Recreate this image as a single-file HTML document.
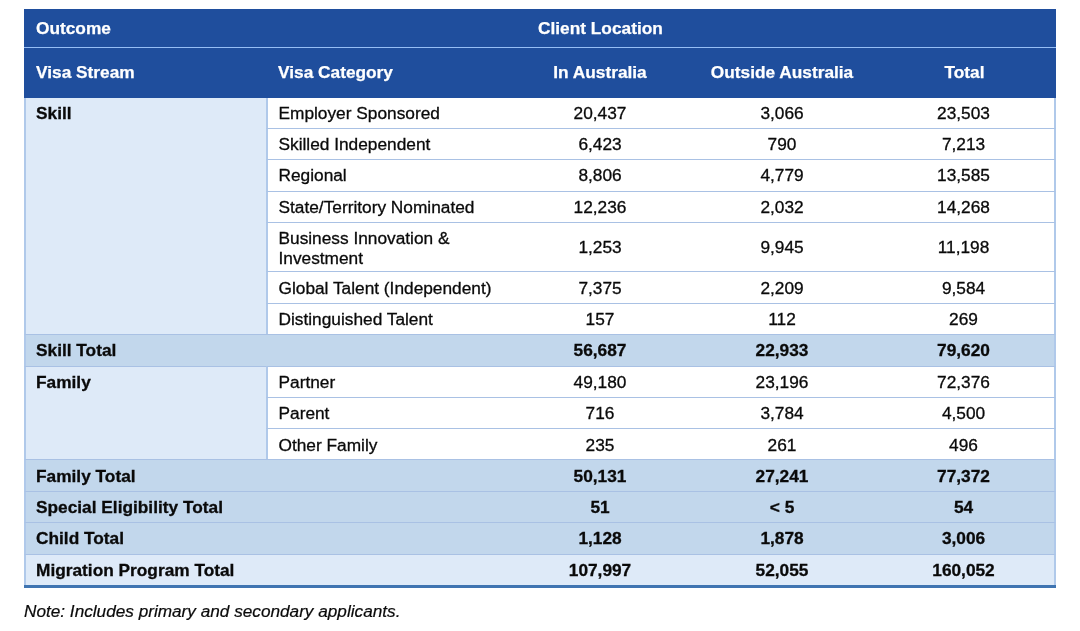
<!DOCTYPE html>
<html lang="en">
<head>
<meta charset="utf-8">
<title>Migration Program Outcome by Visa Stream and Client Location</title>
<style>
  html, body { margin: 0; padding: 0; background: #ffffff; }
  body { width: 1080px; height: 631px; position: relative; overflow: hidden;
         font-family: "Liberation Sans", sans-serif; color: #0a0a0a; }
  table.outcome { position: absolute; left: 24px; top: 9px; width: 1032px; border-collapse: separate; border-spacing: 0;
          table-layout: fixed; font-size: 17.3px; line-height: 20px; border-bottom: 3px solid #3f74b1; }
  col.c1 { width: 242px; } col.c2 { width: 243px; } col.c3 { width: 182px; } col.c4 { width: 182px; } col.c5 { width: 183px; }
  th, td { padding: 0 0 0 12px; vertical-align: top; text-align: left; font-weight: normal;
           box-sizing: border-box; border-top: 1px solid #a9c1e4; overflow: hidden; white-space: nowrap; }
  thead th { background: #1f4e9d; color: #fff; font-weight: bold; border-top: 0; -webkit-text-stroke: 0.25px #fff; }
  thead tr.h1 th { height: 38px; padding-top: 9px; }
  thead tr.h2 th { height: 51px; border-top: 1px solid #96bef5; padding-top: 14px; }
  thead th.loc { padding-left: 29px; }
  th.c, td.c { text-align: center; padding-left: 0; padding-right: 0; }
  tbody td, tbody th { -webkit-text-stroke: 0.3px currentColor; }
  tbody td { background: #fff; }
  tbody tr:first-child > * { border-top: 0; }
  tbody th:first-child { border-left: 2px solid #b0c9ea; padding-left: 10px; }
  tbody td:last-child { border-right: 2px solid #b0c9ea; }
  tbody th.stream { background: #deeaf8; font-weight: bold; }
  tbody td.cat { border-left: 2px solid #b0c9ea; padding-left: 10.5px; }
  tr.tot td, tr.tot th { background: #c2d7ec; font-weight: bold; }
  tr.grand td, tr.grand th { background: #deeaf8; font-weight: bold; }
  .note { position: absolute; left: 24px; top: 601px; font-size: 17.2px; font-style: italic; line-height: 20px; -webkit-text-stroke: 0.2px currentColor; }
</style>
</head>
<body>
<table class="outcome">
  <colgroup><col class="c1"><col class="c2"><col class="c3"><col class="c4"><col class="c5"></colgroup>
  <thead>
    <tr class="h1"><th colspan="2">Outcome</th><th class="loc" colspan="3">Client Location</th></tr>
    <tr class="h2"><th>Visa Stream</th><th>Visa Category</th><th class="c">In Australia</th><th class="c">Outside Australia</th><th class="c">Total</th></tr>
  </thead>
  <tbody>
    <tr style="height:30px"><th class="stream" rowspan="7" style="padding-top:5px">Skill</th><td class="cat" style="padding-top:5px">Employer Sponsored</td><td class="c" style="padding-top:5px">20,437</td><td class="c" style="padding-top:5px">3,066</td><td class="c" style="padding-top:5px">23,503</td></tr>
    <tr style="height:31px"><td class="cat" style="padding-top:5px">Skilled Independent</td><td class="c" style="padding-top:5px">6,423</td><td class="c" style="padding-top:5px">790</td><td class="c" style="padding-top:5px">7,213</td></tr>
    <tr style="height:32px"><td class="cat" style="padding-top:5px">Regional</td><td class="c" style="padding-top:5px">8,806</td><td class="c" style="padding-top:5px">4,779</td><td class="c" style="padding-top:5px">13,585</td></tr>
    <tr style="height:31px"><td class="cat" style="padding-top:5px">State/Territory Nominated</td><td class="c" style="padding-top:5px">12,236</td><td class="c" style="padding-top:5px">2,032</td><td class="c" style="padding-top:5px">14,268</td></tr>
    <tr style="height:49px"><td class="cat" style="padding-top:5px">Business Innovation &amp;<br>Investment</td><td class="c" style="padding-top:14px">1,253</td><td class="c" style="padding-top:14px">9,945</td><td class="c" style="padding-top:14px">11,198</td></tr>
    <tr style="height:32px"><td class="cat" style="padding-top:6px">Global Talent (Independent)</td><td class="c" style="padding-top:6px">7,375</td><td class="c" style="padding-top:6px">2,209</td><td class="c" style="padding-top:6px">9,584</td></tr>
    <tr style="height:31px"><td class="cat" style="padding-top:5px">Distinguished Talent</td><td class="c" style="padding-top:5px">157</td><td class="c" style="padding-top:5px">112</td><td class="c" style="padding-top:5px">269</td></tr>
    <tr class="tot" style="height:32px"><th colspan="2" style="padding-top:5px">Skill Total</th><td class="c" style="padding-top:5px">56,687</td><td class="c" style="padding-top:5px">22,933</td><td class="c" style="padding-top:5px">79,620</td></tr>
    <tr style="height:31px"><th class="stream" rowspan="3" style="padding-top:5px">Family</th><td class="cat" style="padding-top:5px">Partner</td><td class="c" style="padding-top:5px">49,180</td><td class="c" style="padding-top:5px">23,196</td><td class="c" style="padding-top:5px">72,376</td></tr>
    <tr style="height:31px"><td class="cat" style="padding-top:5px">Parent</td><td class="c" style="padding-top:5px">716</td><td class="c" style="padding-top:5px">3,784</td><td class="c" style="padding-top:5px">4,500</td></tr>
    <tr style="height:31px"><td class="cat" style="padding-top:6px">Other Family</td><td class="c" style="padding-top:6px">235</td><td class="c" style="padding-top:6px">261</td><td class="c" style="padding-top:6px">496</td></tr>
    <tr class="tot" style="height:32px"><th colspan="2" style="padding-top:6px">Family Total</th><td class="c" style="padding-top:6px">50,131</td><td class="c" style="padding-top:6px">27,241</td><td class="c" style="padding-top:6px">77,372</td></tr>
    <tr class="tot" style="height:31px"><th colspan="2" style="padding-top:5px">Special Eligibility Total</th><td class="c" style="padding-top:5px">51</td><td class="c" style="padding-top:5px">&lt; 5</td><td class="c" style="padding-top:5px">54</td></tr>
    <tr class="tot" style="height:32px"><th colspan="2" style="padding-top:5px">Child Total</th><td class="c" style="padding-top:5px">1,128</td><td class="c" style="padding-top:5px">1,878</td><td class="c" style="padding-top:5px">3,006</td></tr>
    <tr class="grand" style="height:31px"><th colspan="2" style="padding-top:5px">Migration Program Total</th><td class="c" style="padding-top:5px">107,997</td><td class="c" style="padding-top:5px">52,055</td><td class="c" style="padding-top:5px">160,052</td></tr>
  </tbody>
</table>
<div class="note">Note: Includes primary and secondary applicants.</div>
</body>
</html>
